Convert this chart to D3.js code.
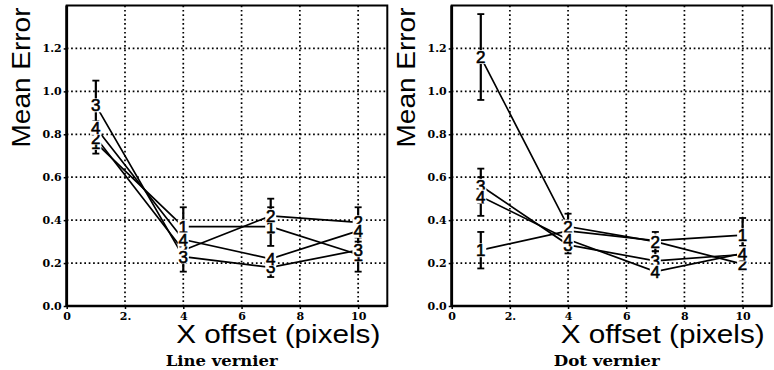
<!DOCTYPE html>
<html><head><meta charset="utf-8">
<script src="https://cdn.jsdelivr.net/npm/d3@7"></script>
<style>
body{margin:0;background:#fff;}
svg{display:block;}
</style></head>
<body>
<svg id="chart" width="774" height="370"></svg>
<script>
// ---- data ----
const offsets = [1, 4, 7, 10];
const seriesNames = ["1", "2", "3", "4"];
const xTickValues = [0, 2, 4, 6, 8, 10];
const xTickLabels = ["0", "2.", "4", "6", "8", "10"];
const yTickValues = [0, 0.2, 0.4, 0.6, 0.8, 1.0, 1.2];
const yTickLabels = ["0.0", "0.2", "0.4", "0.6", "0.8", "1.0", "1.2"];
const panelTitles = ["Line vernier", "Dot vernier"];

// Line vernier: means per series
const lineS1 = [0.76, 0.37, 0.37, 0.24];
const lineS2 = [0.785, 0.26, 0.42, 0.39];
const lineS3 = [0.935, 0.23, 0.18, 0.26];
const lineS4 = [0.83, 0.31, 0.22, 0.35];
// Line vernier: error half-widths
const lineE1 = [0.05, 0.09, 0.09, 0.08];
const lineE2 = [0.03, 0.02, 0.08, 0.07];
const lineE3 = [0.115, 0.07, 0.045, 0.04];
const lineE4 = [0.03, 0.02, 0.02, 0.02];

// Dot vernier
const dotS1 = [0.26, 0.35, 0.305, 0.33];
const dotS2 = [1.16, 0.37, 0.30, 0.195];
const dotS3 = [0.56, 0.285, 0.21, 0.24];
const dotS4 = [0.51, 0.31, 0.16, 0.245];
const dotE1 = [0.085, 0.02, 0.02, 0.08];
const dotE2 = [0.20, 0.06, 0.045, 0.02];
const dotE3 = [0.08, 0.04, 0.045, 0.04];
const dotE4 = [0.09, 0.02, 0.02, 0.02];

const panels = [
  {title: panelTitles[0], titleLen: 112, left: 66.7, right: 387.3, means: [lineS1, lineS2, lineS3, lineS4], errs: [lineE1, lineE2, lineE3, lineE4]},
  {title: panelTitles[1], titleLen: 106, left: 451.7, right: 771.7, means: [dotS1, dotS2, dotS3, dotS4], errs: [dotE1, dotE2, dotE3, dotE4]}
];

const svg = d3.select("#chart");
const plotTop = 5.5, plotBottom = 306;

panels.forEach(p => {
  const g = svg.append("g");
  const x = d3.scaleLinear().domain([0, 11]).range([p.left, p.right]);
  const y = d3.scaleLinear().domain([0, 1.4]).range([plotBottom, plotTop]);

  // grid
  g.append("g").selectAll("line").data(yTickValues.filter(v => v > 0)).join("line")
    .attr("x1", p.left).attr("x2", p.right)
    .attr("y1", d => y(d)).attr("y2", d => y(d))
    .attr("stroke", "#000").attr("stroke-width", 1.7).attr("stroke-dasharray", "1.7,2.7");
  g.append("g").selectAll("line").data(xTickValues.filter(v => v > 0)).join("line")
    .attr("y1", plotTop).attr("y2", plotBottom)
    .attr("x1", d => x(d)).attr("x2", d => x(d))
    .attr("stroke", "#000").attr("stroke-width", 1.7).attr("stroke-dasharray", "1.7,2.7");

  // frame
  g.append("rect").attr("x", p.left).attr("y", plotTop).attr("width", p.right - p.left).attr("height", plotBottom - plotTop)
    .attr("fill", "none").attr("stroke", "#000").attr("stroke-width", 2);
  g.append("line").attr("x1", p.left).attr("x2", p.left).attr("y1", plotTop).attr("y2", plotBottom)
    .attr("stroke", "#000").attr("stroke-width", 2.8);
  g.append("line").attr("x1", p.left).attr("x2", p.right).attr("y1", plotBottom).attr("y2", plotBottom)
    .attr("stroke", "#000").attr("stroke-width", 2.6);

  // axes
  const yAxis = d3.axisLeft(y).tickValues(yTickValues).tickFormat((d, i) => yTickLabels[i]).tickSize(3).tickPadding(2);
  const ya = g.append("g").attr("transform", `translate(${p.left},0)`).call(yAxis);
  ya.select(".domain").remove();
  ya.selectAll("text").attr("font-family", "DejaVu Serif").attr("font-weight", "bold").attr("font-size", 11).attr("fill", "#000");
  ya.selectAll("line").attr("stroke-width", 1.5);

  const xAxis = d3.axisBottom(x).tickValues(xTickValues).tickFormat((d, i) => xTickLabels[i]).tickSize(3).tickPadding(3);
  const xa = g.append("g").attr("transform", `translate(0,${plotBottom})`).call(xAxis);
  xa.select(".domain").remove();
  xa.selectAll("text").attr("font-family", "DejaVu Serif").attr("font-weight", "bold").attr("font-size", 11).attr("fill", "#000");
  xa.selectAll("line").attr("stroke-width", 1.5);

  // series lines
  const line = d3.line().x((d, i) => x(offsets[i])).y(d => y(d));
  p.means.forEach(vals => {
    g.append("path").datum(vals).attr("d", line).attr("fill", "none")
      .attr("stroke", "#000").attr("stroke-width", 1.7);
  });

  // error bars
  p.means.forEach((vals, si) => {
    const errs = p.errs[si];
    const eb = g.append("g");
    vals.forEach((v, i) => {
      const cx = x(offsets[i]);
      const y1 = y(v + errs[i]), y2 = y(v - errs[i]);
      eb.append("line").attr("x1", cx).attr("x2", cx).attr("y1", y1).attr("y2", y2)
        .attr("stroke", "#000").attr("stroke-width", 2.2);
      [y1, y2].forEach(yy => eb.append("line").attr("x1", cx - 3.5).attr("x2", cx + 3.5)
        .attr("y1", yy).attr("y2", yy).attr("stroke", "#000").attr("stroke-width", 1.8));
    });
  });

  // labels: white knock-out box, then glyph
  p.means.forEach((vals, si) => {
    const lg = g.append("g");
    lg.selectAll("rect").data(vals).join("rect")
      .attr("x", (d, i) => x(offsets[i]) - 5.5).attr("y", d => y(d) - 7)
      .attr("width", 11).attr("height", 14).attr("fill", "#fff");
    lg.selectAll("text").data(vals).join("text")
      .attr("x", (d, i) => x(offsets[i])).attr("y", d => y(d)).attr("dy", "0.36em")
      .attr("text-anchor", "middle").attr("font-family", "Liberation Sans, Arial, sans-serif")
      .attr("font-size", 17).attr("fill", "#000").attr("stroke", "#000").attr("stroke-width", 0.6)
      .text(seriesNames[si]);
  });

  // titles
  g.append("text").attr("transform", `translate(${p.left - 37},77.5) rotate(-90)`)
    .attr("text-anchor", "middle").attr("font-family", "Liberation Sans, Arial, sans-serif")
    .attr("font-size", 25).attr("textLength", 140).attr("lengthAdjust", "spacingAndGlyphs")
    .attr("fill", "#000").text("Mean Error");
  g.append("text").attr("x", p.right - 7).attr("y", 343)
    .attr("text-anchor", "end").attr("font-family", "Liberation Sans, Arial, sans-serif")
    .attr("font-size", 25).attr("textLength", 204).attr("lengthAdjust", "spacingAndGlyphs")
    .attr("fill", "#000").text("X offset (pixels)");
  g.append("text").attr("x", p.left + 155).attr("y", 366)
    .attr("text-anchor", "middle").attr("font-family", "DejaVu Serif")
    .attr("font-weight", "bold").attr("font-size", 15).attr("textLength", p.titleLen).attr("lengthAdjust", "spacingAndGlyphs")
    .attr("fill", "#000").text(p.title);
});
</script>
</body></html>
